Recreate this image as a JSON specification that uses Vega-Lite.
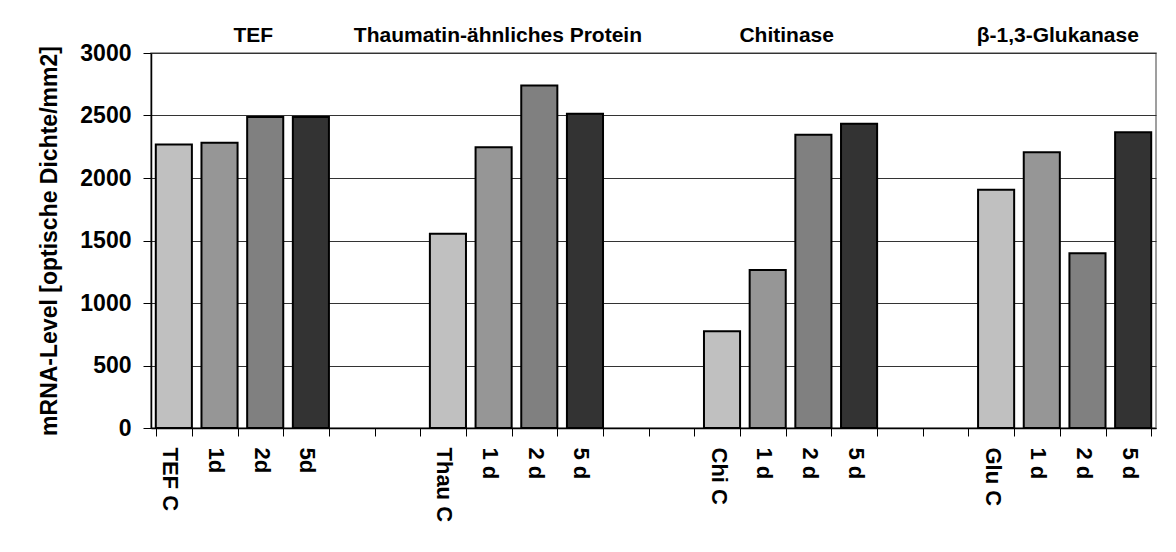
{
  "$schema": "https://vega.github.io/schema/vega-lite/v6.json",
  "autosize": "none",
  "width": 1005,
  "height": 375,
  "padding": {"left": 151, "top": 53, "right": 20, "bottom": 124},
  "background": "white",
  "config": {
    "font": "Liberation Sans",
    "view": {"stroke": "#808080", "strokeWidth": 1.5},
    "axis": {"labelFont": "Liberation Sans", "titleFont": "Liberation Sans", "labelFontWeight": "bold", "titleFontWeight": "bold", "labelColor": "black", "titleColor": "black", "domainColor": "black", "tickColor": "black"}
  },
  "datasets": {
    "expression": [
      {"slot": "TEF C", "stage": "C", "value": 2269},
      {"slot": "1d", "stage": "1 d", "value": 2282},
      {"slot": "2d", "stage": "2 d", "value": 2488},
      {"slot": "5d", "stage": "5 d", "value": 2488},
      {"slot": "Thau C", "stage": "C", "value": 1554},
      {"slot": "1 d", "stage": "1 d", "value": 2247},
      {"slot": "2 d", "stage": "2 d", "value": 2741},
      {"slot": "5 d", "stage": "5 d", "value": 2514},
      {"slot": "Chi C", "stage": "C", "value": 774},
      {"slot": "1 d ", "stage": "1 d", "value": 1265},
      {"slot": "2 d ", "stage": "2 d", "value": 2346},
      {"slot": "5 d ", "stage": "5 d", "value": 2434},
      {"slot": "Glu C", "stage": "C", "value": 1906},
      {"slot": "1 d  ", "stage": "1 d", "value": 2207},
      {"slot": "2 d  ", "stage": "2 d", "value": 1398},
      {"slot": "5 d  ", "stage": "5 d", "value": 2367}
    ]
  },
  "data": {"name": "expression"},
  "encoding": {
    "x": {
      "field": "slot",
      "type": "nominal",
      "sort": null,
      "scale": {
        "domain": ["TEF C", "1d", "2d", "5d", " ", "  ", "Thau C", "1 d", "2 d", "5 d", "   ", "    ", "Chi C", "1 d ", "2 d ", "5 d ", "     ", "      ", "Glu C", "1 d  ", "2 d  ", "5 d  "],
        "paddingInner": 0.21,
        "paddingOuter": 0.105
      },
      "axis": {
        "title": null,
        "labelAngle": 90,
        "labelAlign": "left",
        "labelBaseline": "middle",
        "labelFontSize": 22,
        "labelPadding": 11,
        "labelOffset": -4,
        "tickBand": "extent",
        "tickSize": 8,
        "domainWidth": 1.5,
        "grid": false
      }
    }
  },
  "layer": [
    {
      "mark": {"type": "bar", "stroke": "black", "strokeWidth": 2},
      "encoding": {
        "y": {
          "field": "value",
          "type": "quantitative",
          "scale": {"domain": [0, 3000], "nice": false},
          "axis": {
            "title": "mRNA-Level [optische Dichte/mm2]",
            "titleFontSize": 23,
            "titlePadding": 18,
            "labelFontSize": 23,
            "labelPadding": 12,
            "format": "d",
            "values": [0, 500, 1000, 1500, 2000, 2500, 3000],
            "tickSize": 8,
            "domainWidth": 1.5,
            "grid": true,
            "gridColor": "#333333",
            "gridWidth": 1
          }
        },
        "color": {
          "field": "stage",
          "type": "nominal",
          "scale": {"domain": ["C", "1 d", "2 d", "5 d"], "range": ["#c0c0c0", "#969696", "#808080", "#333333"]},
          "legend": null
        }
      }
    },
    {
      "data": {"values": [{"slot": "2d", "group": "TEF"}]},
      "mark": {"type": "text", "fontSize": 21, "fontWeight": "bold", "baseline": "bottom", "dx": -12, "dy": -7, "color": "black"},
      "encoding": {"text": {"field": "group"}, "y": {"datum": 3000, "type": "quantitative"}}
    },
    {
      "data": {"values": [{"slot": "Thau C", "group": "Thaumatin-ähnliches Protein"}]},
      "mark": {"type": "text", "fontSize": 21, "fontWeight": "bold", "baseline": "bottom", "dx": 50, "dy": -7, "color": "black"},
      "encoding": {"text": {"field": "group"}, "y": {"datum": 3000, "type": "quantitative"}}
    },
    {
      "data": {"values": [{"slot": "1 d ", "group": "Chitinase"}]},
      "mark": {"type": "text", "fontSize": 21, "fontWeight": "bold", "baseline": "bottom", "dx": 19, "dy": -7, "color": "black"},
      "encoding": {"text": {"field": "group"}, "y": {"datum": 3000, "type": "quantitative"}}
    },
    {
      "data": {"values": [{"slot": "1 d  ", "group": "β-1,3-Glukanase"}]},
      "mark": {"type": "text", "fontSize": 21, "fontWeight": "bold", "baseline": "bottom", "dx": 16, "dy": -7, "color": "black"},
      "encoding": {"text": {"field": "group"}, "y": {"datum": 3000, "type": "quantitative"}}
    }
  ]
}
